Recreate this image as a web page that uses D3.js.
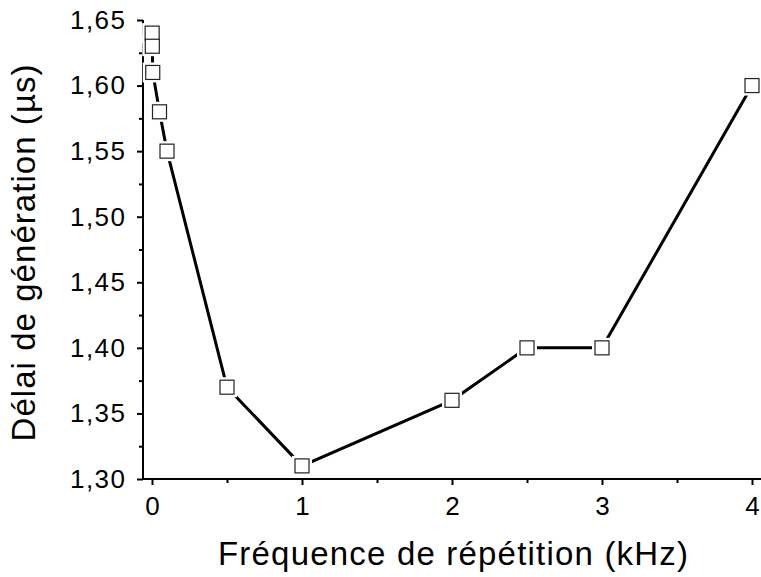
<!DOCTYPE html>
<html>
<head>
<meta charset="utf-8">
<script src="https://cdn.jsdelivr.net/npm/d3@7/dist/d3.min.js"></script>
<style>
  html, body { margin: 0; padding: 0; background: #fff; }
  svg { display: block; font-family: "Liberation Sans", Arial, sans-serif; }
</style>
</head>
<body>
<svg id="chart" width="761" height="577"></svg>
<script>
// Data
const freqKHz = [0.001, 0.002, 0.005, 0.05, 0.1, 0.5, 1, 2, 2.5, 3, 4];
const delayUs = [1.64, 1.63, 1.61, 1.58, 1.55, 1.37, 1.31, 1.36, 1.40, 1.40, 1.60];
const xMajorTicks = [0, 1, 2, 3, 4];
const xMinorTicks = [0.5, 1.5, 2.5, 3.5];
const yMajorTicks = [1.30, 1.35, 1.40, 1.45, 1.50, 1.55, 1.60, 1.65];
const yMinorTicks = [1.325, 1.375, 1.425, 1.475, 1.525, 1.575, 1.625];
const xTitle = "Fréquence de répétition (kHz)";
const yTitle = "Délai de génération (µs)";

const svg = d3.select("#chart");
const x = d3.scaleLinear().domain([-0.06, 4.06]).range([143, 761]);
const y = d3.scaleLinear().domain([1.30, 1.65]).range([479, 20]);
const fmt = d => d3.format(".2f")(d).replace(".", ",");

// X axis
const gx = svg.append("g").attr("transform", `translate(0,${y(1.30)})`);
gx.call(d3.axisBottom(x).tickValues(xMajorTicks).tickFormat(d3.format("d")).tickSize(6).tickPadding(12));
gx.append("g").call(d3.axisBottom(x).tickValues(xMinorTicks).tickFormat("").tickSize(4))
  .select(".domain").remove();
gx.selectAll(".domain").attr("d", `M${x.range()[0]},0H${x.range()[1]}`);

// Y axis
const gy = svg.append("g").attr("transform", `translate(${x(-0.06)},0)`);
gy.call(d3.axisLeft(y).tickValues(yMajorTicks).tickFormat(fmt).tickSize(6).tickPadding(12));
gy.append("g").call(d3.axisLeft(y).tickValues(yMinorTicks).tickFormat("").tickSize(4))
  .select(".domain").remove();
gy.selectAll(".domain").attr("d", `M0,${y.range()[1]}V${y.range()[0]}`);

svg.selectAll(".domain, .tick line").attr("stroke", "#000").attr("stroke-width", 2);
svg.selectAll(".tick text").attr("fill", "#000").attr("font-size", 26)
  .attr("font-family", '"Liberation Sans", Arial, sans-serif');
gy.selectAll(".tick text").attr("textLength", 55).attr("lengthAdjust", "spacing");

// Line
const pts = freqKHz.map((f, i) => [f, delayUs[i]]);
svg.append("path")
  .datum(pts)
  .attr("fill", "none")
  .attr("stroke", "#000")
  .attr("stroke-width", 3)
  .attr("d", d3.line().x(d => x(d[0])).y(d => y(d[1])));

// Marker gaps (white backing)
svg.append("g").selectAll("rect").data(pts).join("rect")
  .attr("x", d => x(d[0]) - 10).attr("y", d => y(d[1]) - 10)
  .attr("width", 20).attr("height", 20).attr("fill", "#fff");

// Square markers
svg.append("g").selectAll("rect").data(pts).join("rect")
  .attr("x", d => x(d[0]) - 7).attr("y", d => y(d[1]) - 7)
  .attr("width", 14).attr("height", 14)
  .attr("fill", "#fff").attr("stroke", "#222").attr("stroke-width", 1.2);

// Titles
svg.append("text")
  .attr("x", 453).attr("y", 565)
  .attr("text-anchor", "middle")
  .attr("font-size", 33)
  .attr("textLength", 470).attr("lengthAdjust", "spacing")
  .attr("fill", "#000")
  .text(xTitle);

svg.append("text")
  .attr("transform", "translate(35,253) rotate(-90)")
  .attr("text-anchor", "middle")
  .attr("font-size", 33)
  .attr("textLength", 377).attr("lengthAdjust", "spacing")
  .attr("fill", "#000")
  .text(yTitle);
</script>
</body>
</html>
